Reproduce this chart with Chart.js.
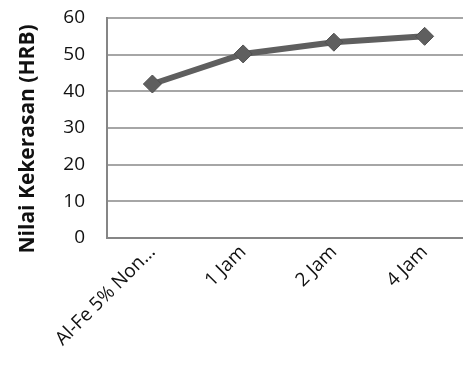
<!DOCTYPE html>
<html>
<head>
<meta charset="utf-8">
<script src="https://cdn.jsdelivr.net/npm/chart.js@4.4.1/dist/chart.umd.min.js"></script>
<style>
  html, body { margin: 0; padding: 0; background: #fff; overflow: hidden; }
  #wrap { width: 480px; height: 376px; position: relative; }
</style>
</head>
<body>
<div id="wrap"><canvas id="c"></canvas></div>
<script>
const categories = ['Al-Fe 5% Non…', '1 Jam', '2 Jam', '4 Jam'];
const hardness = [42, 50.2, 53.4, 55];
const yTicks = [0, 10, 20, 30, 40, 50, 60];

const font = '"Open Sans", "DejaVu Sans", sans-serif';

new Chart(document.getElementById('c'), {
    type: 'line',
    data: {
        labels: categories,
        datasets: [{
            data: hardness,
            borderColor: '#5f5f5f',
            backgroundColor: '#5f5f5f',
            borderWidth: 6,
            pointStyle: 'rectRot',
            pointRadius: 9,
            pointBorderWidth: 1,
            pointBorderColor: '#505050',
            tension: 0,
        }],
    },
    options: {
        responsive: true,
        maintainAspectRatio: false,
        animation: false,
        layout: { padding: { top: 18, left: 0, right: 0, bottom: 0 } },
        plugins: { legend: { display: false }, tooltip: { enabled: false } },
        scales: {
            x: {
                offset: true,
                grid: { display: false, drawTicks: false, offset: true },
                border: { color: '#868686', width: 2 },
                ticks: {
                    font: { family: font, size: 19 },
                    color: '#111',
                    maxRotation: 45,
                    minRotation: 45,
                    padding: 3,
                    autoSkip: false,
                },
                afterFit: (s) => { s.height = 138; s.paddingLeft = 0; s.paddingRight = 0; },
            },
            y: {
                min: 0,
                max: 60,
                afterBuildTicks: (s) => { s.ticks = yTicks.map((v) => ({ value: v })); },
                grid: { color: '#a6a6a6', lineWidth: 2, drawTicks: false },
                border: { color: '#868686', width: 2 },
                ticks: {
                    font: { family: font, size: 19 },
                    color: '#111',
                    padding: 22,
                },
                title: {
                    display: true,
                    text: 'Nilai Kekerasan (HRB)    ',
                    font: { family: font, size: 21, weight: 'bold' },
                    color: '#111',
                    padding: { top: 15, bottom: 0 },
                },
                afterFit: (s) => { s.width = 107; s.paddingTop = 0; s.paddingBottom = 0; },
            },
        },
    },
});
</script>
</body>
</html>
